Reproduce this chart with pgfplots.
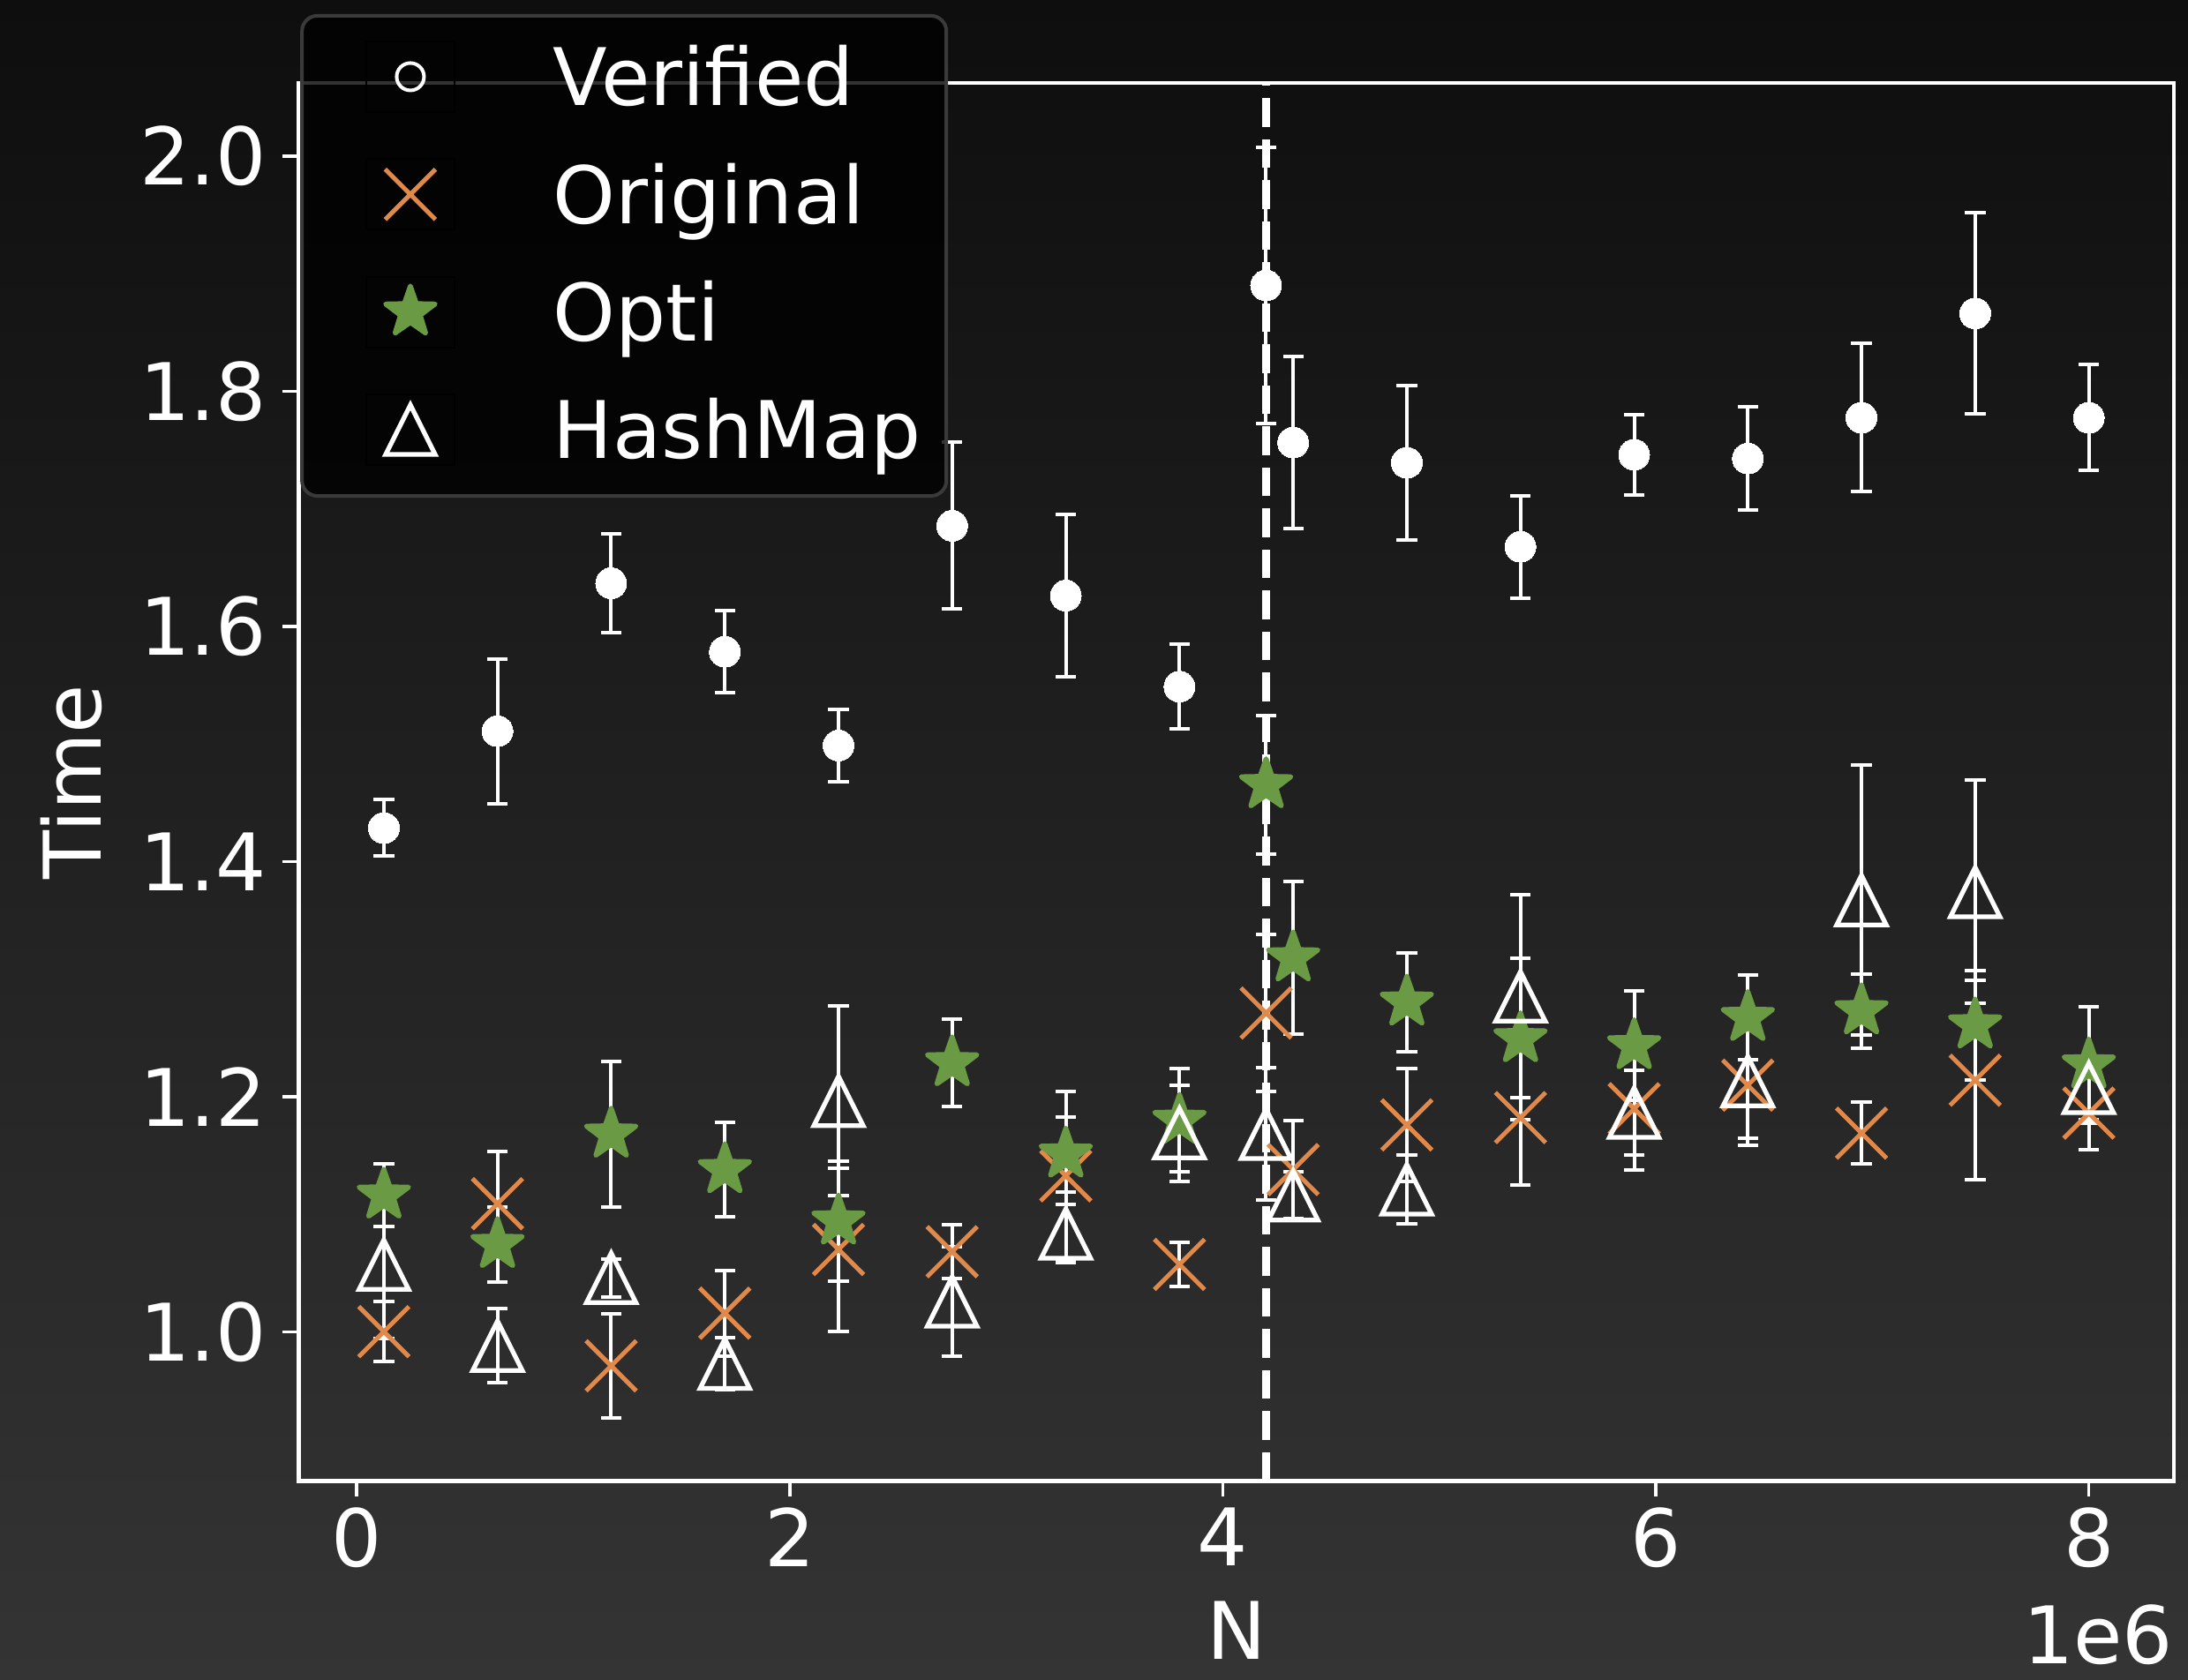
\documentclass[border=0pt]{standalone}
\usepackage{pgfplots}
\pgfplotsset{compat=1.18}
\usepackage{pgfplotstable}
\usepackage{fontspec}
\setmainfont{DejaVu Sans}
\definecolor{bgtop}{HTML}{0E0E0E}
\definecolor{bgbot}{HTML}{343434}
\definecolor{morange}{HTML}{E0894B}
\definecolor{mgreen}{HTML}{6A9A43}
\definecolor{legedge}{HTML}{3A3A3A}
\newcommand{\fsz}{\fontsize{18}{21.6}\selectfont}

\pgfdeclareplotmark{mplstar}{%
  \pgfpathmoveto{\pgfpointpolar{90}{\pgfplotmarksize}}%
  \pgfpathlineto{\pgfpointpolar{126}{0.40\pgfplotmarksize}}%
  \pgfpathlineto{\pgfpointpolar{162}{\pgfplotmarksize}}%
  \pgfpathlineto{\pgfpointpolar{198}{0.40\pgfplotmarksize}}%
  \pgfpathlineto{\pgfpointpolar{234}{\pgfplotmarksize}}%
  \pgfpathlineto{\pgfpointpolar{270}{0.40\pgfplotmarksize}}%
  \pgfpathlineto{\pgfpointpolar{306}{\pgfplotmarksize}}%
  \pgfpathlineto{\pgfpointpolar{342}{0.40\pgfplotmarksize}}%
  \pgfpathlineto{\pgfpointpolar{18}{\pgfplotmarksize}}%
  \pgfpathlineto{\pgfpointpolar{54}{0.40\pgfplotmarksize}}%
  \pgfpathclose
  \pgfusepathqfillstroke}
\pgfdeclareplotmark{mpltri}{%
  \pgfpathmoveto{\pgfqpoint{0pt}{\pgfplotmarksize}}%
  \pgfpathlineto{\pgfqpoint{-\pgfplotmarksize}{-\pgfplotmarksize}}%
  \pgfpathlineto{\pgfqpoint{\pgfplotmarksize}{-\pgfplotmarksize}}%
  \pgfpathclose
  \pgfusepathqstroke}
\pgfdeclareplotmark{mplx}{%
  \pgfpathmoveto{\pgfqpoint{-\pgfplotmarksize}{-\pgfplotmarksize}}%
  \pgfpathlineto{\pgfqpoint{\pgfplotmarksize}{\pgfplotmarksize}}%
  \pgfpathmoveto{\pgfqpoint{-\pgfplotmarksize}{\pgfplotmarksize}}%
  \pgfpathlineto{\pgfqpoint{\pgfplotmarksize}{-\pgfplotmarksize}}%
  \pgfusepathqstroke}

\pgfplotstableread{
x y e
0.125 1.4287 0.0240
0.65  1.5111 0.0615
1.175 1.6369 0.0420
1.7   1.5787 0.0350
2.225 1.4989 0.0310
2.75  1.6858 0.0710
3.275 1.6264 0.0690
3.8   1.5490 0.0360
4.2   1.8903 0.1176
4.325 1.7566 0.0730
4.85  1.7394 0.0660
5.375 1.6680 0.0435
5.9   1.7463 0.0340
6.425 1.7430 0.0440
6.95  1.7777 0.0630
7.475 1.8664 0.0855
8.0   1.7777 0.0450
}\verified

\pgfplotstableread{
x y e
0.125 1.0004 0.0256
0.65  1.1092 0.0441
1.175 0.9713 0.0440
1.7   1.0161 0.0365
2.225 1.0703 0.0694
2.75  1.0684 0.0231
3.275 1.1329 0.0720
3.8   1.0576 0.0185
4.2   1.2713 0.0670
4.325 1.1382 0.0419
4.85  1.1762 0.0483
5.375 1.1824 0.0575
5.9   1.1900 0.0520
6.425 1.2100 0.0513
6.95  1.1692 0.0263
7.475 1.2142 0.0847
8.0   1.1862 0.0308
}\original

\pgfplotstableread{
x y e
0.125 1.1164 0.0265
0.65  1.0744 0.0316
1.175 1.1683 0.0617
1.7   1.1381 0.0400
2.225 1.0944 0.0509
2.75  1.2290 0.0373
3.275 1.1513 0.0319
3.8   1.1800 0.0440
4.2   1.4655 0.0590
4.325 1.3182 0.0647
4.85  1.2806 0.0419
5.375 1.2494 0.0689
5.9   1.2435 0.0465
6.425 1.2675 0.0359
6.95  1.2732 0.0316
7.475 1.2612 0.0465
8.0   1.2271 0.0498
}\opti

\pgfplotstableread{
x y e
0.125 1.0574 0.0625
0.65  0.9884 0.0315
1.175 1.0461 0.0161
1.7   0.9731 0.0221
2.225 1.1965 0.0807
2.75  1.0261 0.0468
3.275 1.0838 0.0245
3.8   1.1692 0.0410
4.2   1.1686 0.0560
4.325 1.1162 0.0200
4.85  1.1214 0.0290
5.375 1.2856 0.0864
5.9   1.1867 0.0363
6.425 1.2135 0.0485
6.95  1.3674 0.1150
7.475 1.3743 0.0949
8.0   1.2077 0.0270
}\hashmap

\pgfplotsset{
  errstyle/.style={forget plot, draw=none, mark=none,
    error bars/.cd, y dir=both, y explicit,
    error bar style={draw=white, line width=0.8pt, solid},
    error mark options={draw=white, line width=0.8pt, mark size=2.33pt, rotate=90}},
  legbox/.style={legend image code/.code={%
    \path (-10pt,-8pt) rectangle (10pt,8pt);
    \draw plot coordinates {(0pt,0pt)};}}
}

\begin{document}
\begin{tikzpicture}
\fill[top color=bgtop, bottom color=bgbot] (0pt,0pt) rectangle (495.8pt,380.6pt);
\begin{axis}[
  at={(67.66pt,44.92pt)}, anchor=south west,
  scale only axis, width=424.98pt, height=316.92pt,
  xmin=-0.26875, xmax=8.39375, ymin=0.8734, ymax=2.0626,
  clip=false,
  axis line style={white, line width=0.9pt},
  xtick={0,2,4,6,8}, xticklabels={0,2,4,6,8},
  ytick={1.0,1.2,1.4,1.6,1.8,2.0}, yticklabels={1.0,1.2,1.4,1.6,1.8,2.0},
  scaled ticks=false,
  xtick pos=lower, ytick pos=left,
  tick align=outside, major tick length=3.6pt,
  tick style={white, line width=0.7pt},
  xticklabel style={font=\fsz, text=white, inner sep=0pt, anchor=north, yshift=-2.2pt},
  yticklabel style={font=\fsz, text=white, inner sep=0pt, anchor=east, xshift=-3.5pt},
  xlabel={N}, ylabel={Time},
  every axis x label/.style={at={(axis description cs:0.5,-0.1275)}, anchor=base, font=\fsz, text=white, inner sep=0pt},
  every axis y label/.style={at={(axis description cs:-0.1051,0.5)}, anchor=base, rotate=90, font=\fsz, text=white, inner sep=0pt},
  legend cell align=left,
  legend style={at={(axis description cs:0.0356,1.0302)}, anchor=north west,
    draw=none, fill=none, inner sep=0pt, outer sep=0pt,
    /tikz/column sep=22.2pt, /tikz/row sep=10.27pt,
    cells={anchor=west},
    nodes={inner sep=0pt, anchor=west, text height=13.12pt, text depth=0pt, text=white, font=\fsz}},
]
% error bars first (drawn below all markers)
\addplot[errstyle] table[x=x, y=y, y error=e] {\verified};
\addplot[errstyle] table[x=x, y=y, y error=e] {\original};
\addplot[errstyle] table[x=x, y=y, y error=e] {\opti};
\addplot[errstyle] table[x=x, y=y, y error=e] {\hashmap};
% vertical dashed line at N = 4.2e6
\addplot[forget plot, white, line width=1.8pt, dash pattern=on 6.5pt off 2.8pt]
  coordinates {(4.2,0.8734) (4.2,2.0626)};
% markers
\addplot[only marks, mark=*, mark size=3.5pt,
  mark options={draw=white, fill=white, line width=0pt},
  legend image code/.code={%
    \path (-10pt,-8pt) rectangle (10pt,8pt);
    \draw plot[mark=o, mark size=3.1pt, mark options={draw=white, fill=none, line width=0.8pt}] coordinates {(0pt,0pt)};}]
  table[x=x, y=y] {\verified};
\addlegendentry{Verified}
\addplot[only marks, mark=mplx, mark size=5.7pt, legbox,
  mark options={draw=morange, line width=1pt}]
  table[x=x, y=y] {\original};
\addlegendentry{Original}
\addplot[only marks, mark=mplstar, mark size=5.9pt, legbox,
  mark options={fill=mgreen, draw=mgreen, line width=1.1pt, line join=round}]
  table[x=x, y=y] {\opti};
\addlegendentry{Opti}
\addplot[only marks, mark=mpltri, mark size=5.6pt, legbox,
  mark options={draw=white, fill=none, line width=1.05pt, line join=miter, miter limit=10}]
  table[x=x, y=y] {\hashmap};
\addlegendentry{HashMap}
% legend frame (semi-transparent black box, drawn over the data)
\draw[draw=legedge, line width=0.8pt, fill=black, fill opacity=0.8, rounded corners=3.5pt]
  (rel axis cs:0.0018,1.0479) rectangle (rel axis cs:0.3454,0.7045);
\node[anchor=base east, font=\fsz, text=white, inner sep=0pt] at (axis description cs:1.0,-0.1305) {1e6};
\end{axis}
\pgfresetboundingbox
\useasboundingbox (0pt,0pt) rectangle (495.8pt,380.6pt);
\end{tikzpicture}
\end{document}
